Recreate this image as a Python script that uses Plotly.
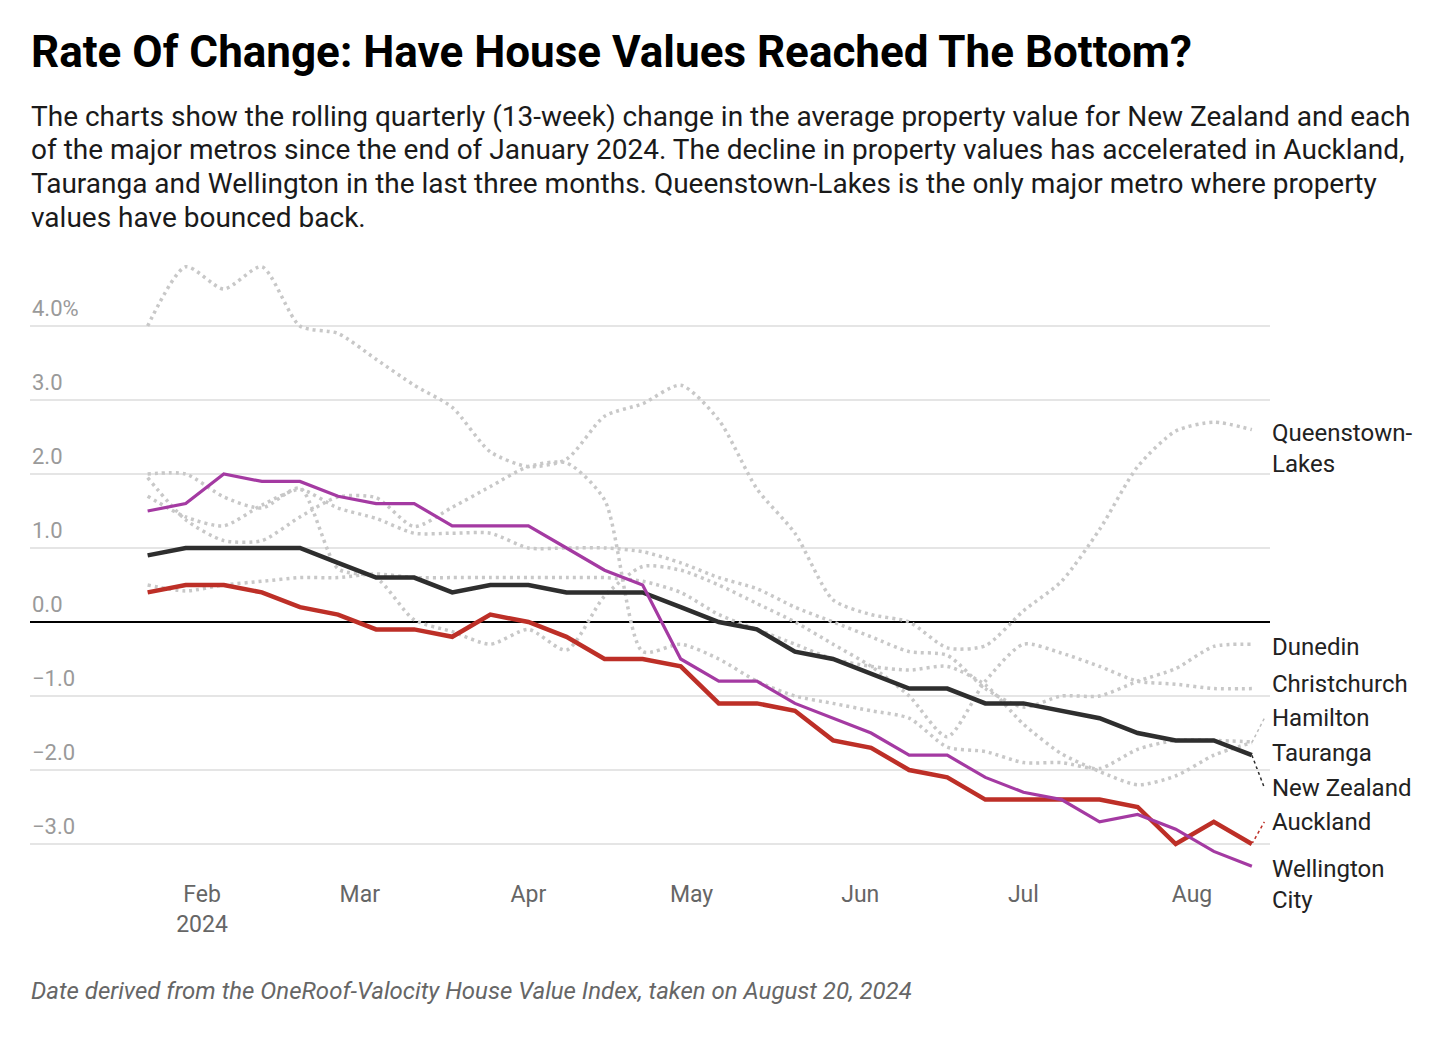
import plotly.graph_objects as go
import pandas as pd

dates = pd.date_range("2024-01-22", periods=30, freq="7D")

nz = [0.9, 1.0, 1.0, 1.0, 1.0, 0.8, 0.6, 0.6, 0.4, 0.5, 0.5, 0.4, 0.4, 0.4, 0.2,
      0.0, -0.1, -0.4, -0.5, -0.7, -0.9, -0.9, -1.1, -1.1, -1.2, -1.3, -1.5, -1.6, -1.6, -1.8]
auckland = [0.4, 0.5, 0.5, 0.4, 0.2, 0.1, -0.1, -0.1, -0.2, 0.1, 0.0, -0.2, -0.5, -0.5, -0.6,
            -1.1, -1.1, -1.2, -1.6, -1.7, -2.0, -2.1, -2.4, -2.4, -2.4, -2.4, -2.5, -3.0, -2.7, -3.0]
wellington = [1.5, 1.6, 2.0, 1.9, 1.9, 1.7, 1.6, 1.6, 1.3, 1.3, 1.3, 1.0, 0.7, 0.5, -0.5,
              -0.8, -0.8, -1.1, -1.3, -1.5, -1.8, -1.8, -2.1, -2.3, -2.4, -2.7, -2.6, -2.8, -3.1, -3.3]
queenstown = [4.0, 4.8, 4.5, 4.8, 4.0, 3.9, 3.55, 3.2, 2.9, 2.3, 2.1, 2.2, 2.78, 2.95, 3.2,
              2.73, 1.8, 1.2, 0.3, 0.1, 0.0, -0.35, -0.32, 0.15, 0.55, 1.25, 2.1, 2.58, 2.7, 2.6]
dunedin = [1.7, 1.42, 1.3, 1.58, 1.79, 1.54, 1.4, 1.2, 1.2, 1.2, 1.0, 1.0, 1.0, 0.95, 0.8,
           0.6, 0.45, 0.2, 0.0, -0.2, -0.4, -0.45, -0.9, -1.15, -1.0, -1.0, -0.8, -0.63, -0.33, -0.3]
hamilton = [0.5, 0.42, 0.5, 0.55, 0.6, 0.6, 0.65, 0.6, 0.6, 0.6, 0.6, 0.6, 0.6, 0.55, 0.4,
            0.1, -0.1, -0.3, -0.5, -0.6, -0.65, -0.6, -0.85, -1.38, -1.78, -2.02, -2.2, -2.08, -1.8, -1.63]
tauranga = [1.95, 1.38, 1.1, 1.1, 1.42, 1.69, 1.68, 1.29, 1.55, 1.83, 2.1, 2.15, 1.65, -0.4, -0.3,
            -0.5, -0.8, -1.0, -1.1, -1.2, -1.3, -1.69, -1.75, -1.9, -1.9, -1.98, -1.72, -1.6, -1.6, -1.62]
christchurch = [2.0, 2.0, 1.69, 1.54, 1.81, 0.72, 0.6, 0.03, -0.13, -0.3, -0.1, -0.38, 0.35, 0.75, 0.7,
                0.5, 0.25, 0.0, -0.3, -0.6, -1.0, -1.55, -0.8, -0.3, -0.42, -0.6, -0.8, -0.84, -0.9, -0.9]

y_ticks = [4, 3, 2, 1, 0, -1, -2, -3]
y_tick_text = ["4.0%", "3.0", "2.0", "1.0", "0.0", "\u22121.0", "\u22122.0", "\u22123.0"]
month_ticks = ["2024-02-01", "2024-03-01", "2024-04-01", "2024-05-01", "2024-06-01", "2024-07-01", "2024-08-01"]
month_text = ["Feb<br>2024", "Mar", "Apr", "May", "Jun", "Jul", "Aug"]

Y_MIN, Y_MAX = -3.3514, 5.0270

GRAY = "#c8c8c8"
# name, values, colour, width, kind, label centre (value units), number of label lines
series = [
    ("Queenstown-<br>Lakes", queenstown, GRAY, 3.5, "gray", 2.35, 2),
    ("Dunedin", dunedin, GRAY, 3.5, "gray", -0.34, 1),
    ("Christchurch", christchurch, GRAY, 3.5, "gray", -0.84, 1),
    ("Hamilton", hamilton, GRAY, 3.5, "gray", -1.30, 1),
    ("Tauranga", tauranga, GRAY, 3.5, "gray", -1.77, 1),
    ("Auckland", auckland, "#bd2f27", 4.5, "solid", -2.70, 1),
    ("New Zealand", nz, "#2e2e2e", 4.5, "solid", -2.24, 1),
    ("Wellington<br>City", wellington, "#a43aa2", 3.2, "solid", -3.55, 2),
]

fig = go.Figure()
for name, vals, color, w, kind, _, _ in series:
    if kind == "gray":
        fig.add_trace(go.Scatter(x=dates, y=vals, mode="lines", name=name,
                                 line=dict(color=color, width=w, dash="3px,4px", shape="spline", smoothing=0.7),
                                 hoverinfo="skip"))
for name, vals, color, w, kind, _, _ in series:
    if kind != "gray":
        fig.add_trace(go.Scatter(x=dates, y=vals, mode="lines", name=name,
                                 line=dict(color=color, width=w), hoverinfo="skip"))


def val_to_paper(v):
    return (v - Y_MIN) / (Y_MAX - Y_MIN)


PX_PER_UNIT = 74.0
annotations = []
shapes = []
last_date = dates[-1]
conn_end = last_date + pd.Timedelta(days=2.3)
for name, vals, color, w, kind, label_y, nlines in series:
    annotations.append(dict(x=1.0, xref="paper", y=val_to_paper(label_y), yref="paper", text=name,
                            showarrow=False, xanchor="left", yanchor="middle", align="left",
                            font=dict(family="Roboto", size=24, color="#222222")))
    first_line_y = label_y + (nlines - 1) * 14 / PX_PER_UNIT
    if abs(vals[-1] - first_line_y) > 0.2:
        shapes.append(dict(type="line", xref="x", yref="y", x0=last_date, y0=vals[-1], x1=conn_end,
                           y1=first_line_y,
                           line=dict(color=color if kind != "gray" else "#bdbdbd", width=1.5, dash="dot"),
                           layer="below"))

for v, t in zip(y_ticks, y_tick_text):
    annotations.append(dict(x=0, xref="paper", y=v, yref="y", text=t, showarrow=False,
                            xanchor="left", yanchor="bottom", yshift=3,
                            font=dict(family="Roboto", size=22, color="#9a9a9a")))

sub_lines = ["The charts show the rolling quarterly (13-week) change in the average property value for New Zealand and each",
             "of the major metros since the end of January 2024. The decline in property values has accelerated in Auckland,",
             "Tauranga and Wellington in the last three months. Queenstown-Lakes is the only major metro where property",
             "values have bounced back."]

W, H = 1448, 1042
L, R, T, B = 30, 178, 250, 172


def px_x(p):
    return (p - L) / (W - L - R)


def px_y(p):
    return 1 - (p - T) / (H - T - B)


annotations.append(dict(x=px_x(29), y=px_y(52), xref="paper", yref="paper", xanchor="left", yanchor="middle",
                        text="<b>Rate Of Change: Have House Values Reached The Bottom?</b>", showarrow=False,
                        font=dict(family="Roboto", size=44, color="#000000")))
for i, line in enumerate(sub_lines):
    annotations.append(dict(x=px_x(29), y=px_y(116 + 33.7 * i), xref="paper", yref="paper", xanchor="left",
                            yanchor="middle", text=line, showarrow=False,
                            font=dict(family="Roboto", size=28, color="#1a1a1a")))
annotations.append(dict(x=px_x(29), y=px_y(991), xref="paper", yref="paper", xanchor="left", yanchor="middle",
                        text="<i>Date derived from the OneRoof-Valocity House Value Index, taken on August 20, 2024</i>",
                        showarrow=False, font=dict(family="Roboto", size=24, color="#666666")))

fig.update_layout(
    width=W, height=H, margin=dict(l=L, r=R, t=T, b=B),
    paper_bgcolor="white", plot_bgcolor="white", showlegend=False,
    annotations=annotations, shapes=shapes,
    xaxis=dict(type="date", range=["2023-12-31 09:00", "2024-08-15 08:00"], tickvals=month_ticks, ticktext=month_text,
               showgrid=False, zeroline=False, showline=False, ticks="", ticklabelstandoff=8,
               tickfont=dict(family="Roboto", size=23, color="#666666")),
    yaxis=dict(range=[Y_MIN, Y_MAX], tickvals=y_ticks, showticklabels=False, showgrid=True,
               gridcolor="#e5e5e5", gridwidth=2, zeroline=True, zerolinecolor="#000000", zerolinewidth=1.5,
               showline=False, ticks=""),
)

fig.write_html("out.html")
